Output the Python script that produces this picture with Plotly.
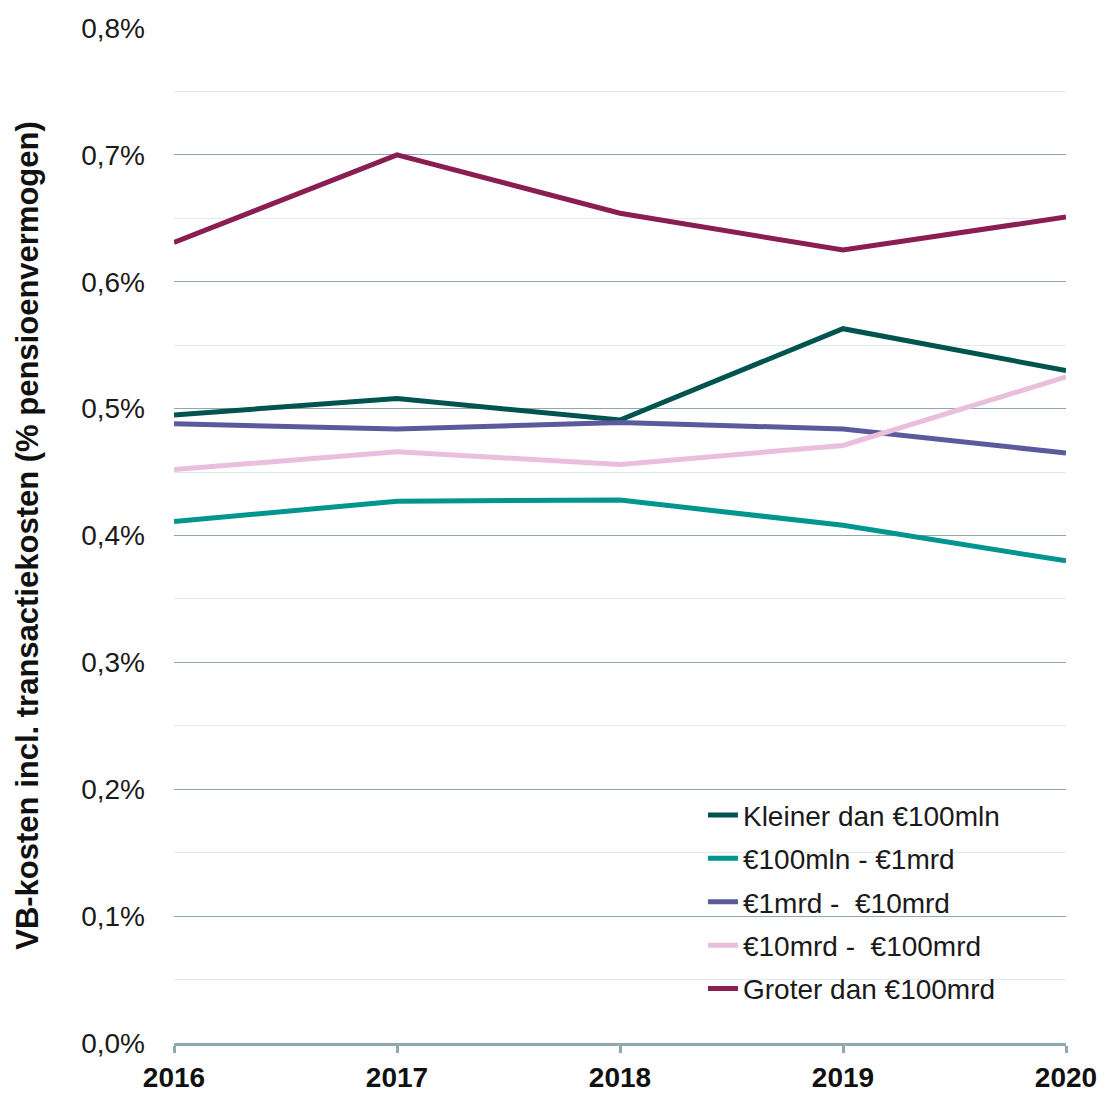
import plotly.graph_objects as go

years = [2016, 2017, 2018, 2019, 2020]
series_names = [
    "Kleiner dan €100mln",
    "€100mln - €1mrd",
    "€1mrd -  €10mrd",
    "€10mrd -  €100mrd",
    "Groter dan €100mrd",
]
kleiner = [0.495, 0.508, 0.491, 0.563, 0.530]
mln100_mrd1 = [0.411, 0.427, 0.428, 0.408, 0.380]
mrd1_mrd10 = [0.488, 0.484, 0.489, 0.484, 0.465]
mrd10_mrd100 = [0.452, 0.466, 0.456, 0.471, 0.525]
groter = [0.631, 0.700, 0.654, 0.625, 0.651]
colors = ["#00544F", "#00968F", "#5B5A9C", "#E9BFDD", "#8A1D52"]
y_ticks = [0.0, 0.1, 0.2, 0.3, 0.4, 0.5, 0.6, 0.7, 0.8]
y_tick_labels = ["0,0%", "0,1%", "0,2%", "0,3%", "0,4%", "0,5%", "0,6%", "0,7%", "0,8%"]

fig = go.Figure()
for i, (name, vals) in enumerate(zip(series_names, [kleiner, mln100_mrd1, mrd1_mrd10, mrd10_mrd100, groter])):
    fig.add_trace(go.Scatter(
        x=years, y=vals, name=name, mode="lines",
        line=dict(color=colors[i], width=5),
        legendgroup=f"g{i}",
    ))

# white legend background panel (hides gridlines behind the legend)
fig.add_shape(type="rect", xref="paper", yref="paper",
              x0=0.518, x1=1.0, y0=0.02, y1=0.245,
              fillcolor="white", line=dict(width=0), layer="between")

fig.update_layout(
    width=1104, height=1093,
    margin=dict(l=174, r=38, t=28, b=50),
    paper_bgcolor="white", plot_bgcolor="white",
    font=dict(family="Liberation Sans, Arial, sans-serif", color="#1a1a1a"),
    showlegend=True,
    legend=dict(
        x=0.593, y=0.249, xanchor="left", yanchor="top",
        bgcolor="rgba(0,0,0,0)", borderwidth=0,
        font=dict(size=28, color="#1a1a1a"),
        traceorder="grouped", tracegroupgap=4,
    ),
)
fig.update_xaxes(
    range=[2016, 2020], tickvals=years, ticktext=[f"<b>{y}</b>" for y in years],
    showgrid=False, zeroline=False,
    showline=True, linecolor="#8FA9AE", linewidth=3,
    ticks="outside", ticklen=7, tickwidth=3, tickcolor="#8FA9AE",
    tickfont=dict(size=28, color="#111111"),
    automargin=False, ticklabeloverflow="allow",
)
fig.update_yaxes(
    range=[0, 0.8], tickvals=y_ticks, ticktext=y_tick_labels,
    showgrid=True, gridcolor="#8FA9AE", gridwidth=1.2,
    minor=dict(dtick=0.05, showgrid=True, gridcolor="#E2EAEA", gridwidth=1.2),
    zeroline=False, showline=False, ticks="",
    tickfont=dict(size=28, color="#1a1a1a"),
    ticklabelstandoff=28,
    title=dict(text="<b>VB-kosten incl. transactiekosten (% pensioenvermogen)</b>",
               font=dict(size=31, color="#111111"), standoff=33),
    automargin=False, ticklabeloverflow="allow",
)

fig.write_html("out.html", config={"displayModeBar": False},
               post_script="document.body.style.margin='0';")
